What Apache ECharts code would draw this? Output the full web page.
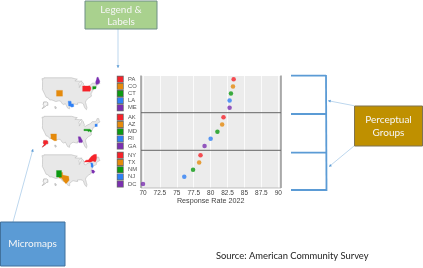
<!DOCTYPE html>
<html><head><meta charset="utf-8">
<style>html,body{margin:0;padding:0;background:#fff}#c{width:423px;height:268px;filter:blur(0.45px)}</style>
<script src="https://cdn.jsdelivr.net/npm/echarts@6/dist/echarts.min.js"></script>
</head><body><div id="c"></div>
<script>
const groupStates = [['PA','CO','CT','LA','ME'],['AK','AZ','MD','RI','GA'],['NY','TX','NM','NJ','DC']];
const groupRates = [[83.4,83.3,83.0,82.8,82.8],[81.9,81.7,81.0,80.0,79.1],[78.5,78.3,77.4,76.1,70.0]];
const colors = ['#f5232a','#e58a0c','#0d9a12','#2f80f5','#7b2fb0'];
const xTicks = {min:70,max:90,interval:2.5};
const usOutline = [[-124.7,48.4],[-123,48.2],[-122.8,49],[-95.2,49],[-95.1,49.4],[-94.6,48.7],[-92,48.3],[-89.6,48],[-92,46.7],[-90,46.6],[-87.5,46.5],[-84.8,46.5],[-84.7,45.9],[-87,45.7],[-88,44.6],[-87.5,43],[-87.6,41.7],[-86.8,41.7],[-86.3,43.5],[-85.5,45],[-84.8,45.8],[-83.4,45],[-83.4,44],[-83.9,43.7],[-82.9,44],[-82.4,43],[-83.1,42.2],[-83.4,41.7],[-81.7,41.5],[-79,42.7],[-79,43.3],[-76.5,43.5],[-76.2,44.2],[-74.8,45],[-71.5,45],[-71,45.3],[-70.3,46.2],[-69.9,47.3],[-69.2,47.5],[-68.3,47.3],[-67.8,47.1],[-67.8,45.7],[-67,44.9],[-69,44],[-70.7,43.1],[-70.8,42.7],[-70.6,41.7],[-71.4,41.4],[-74,40.6],[-74,39.5],[-75,38.9],[-75.5,39.5],[-75.2,38],[-76,37],[-76,36.5],[-75.5,35.3],[-77,34.5],[-78.5,33.8],[-81,32],[-81.4,30.7],[-80.6,28.4],[-80,26.8],[-80.4,25.2],[-81.2,25.2],[-81.8,26.2],[-82.8,27.8],[-83.5,29.5],[-84.5,30],[-86,30.4],[-88,30.3],[-89.5,30.2],[-89.2,29.1],[-91,29.2],[-93.8,29.7],[-95,29.1],[-97.2,27.7],[-97.2,25.9],[-99.2,26.4],[-100.6,28.5],[-101.5,29.8],[-103,29],[-104.5,29.6],[-106.5,31.8],[-108.2,31.8],[-108.2,31.3],[-111,31.3],[-114.8,32.5],[-117.1,32.5],[-118.5,34],[-120.6,34.5],[-122,36.8],[-124.3,40.3],[-124.2,42],[-124.1,46.5]];
const akShape = [[-123,31],[-120,31],[-119,30.5],[-118.8,28.5],[-120,28.5],[-121.5,27.5],[-124.5,26],[-122.5,28],[-123.5,29]];
const hiShape = [[-112,27.5],[-110.8,27.3],[-110.5,26.3],[-111.5,26],[-112,26.5]];
const stateShapes = {
 PA:[[-84.3,42.9],[-83.4,43.2],[-83.3,42.9],[-77,42.9],[-76,41.6],[-76.3,40],[-77,38.9],[-84.3,38.9]],
 CO:[[-110.3,39.6],[-104.3,39.6],[-104.3,35.3],[-110.3,35.3]],
 CT:[[-74.3,42.6],[-71,42.6],[-71,40.9],[-74.3,40.4]],
 LA:[[-98.7,31.6],[-95.8,31.6],[-95.4,29.5],[-93.4,29.5],[-93,27.6],[-95,27.1],[-97,28],[-98.2,28]],
 ME:[[-71,44],[-71.3,46],[-70.6,47.5],[-70,49.4],[-68.8,49.4],[-68,48],[-67.2,46.5],[-67.6,45.2],[-68.8,44.3]],
 AK:akShape,
 AZ:[[-116,35.9],[-110.3,35.9],[-110.3,30.8],[-112.5,30.8],[-116,32.5],[-115.8,34]],
 MD:[[-83,39.4],[-77,39.4],[-75.3,38.3],[-76,37.1],[-77.2,38],[-78.5,37.4],[-79.5,38.3],[-83,38.3]],
 RI:[[-72,43.2],[-69.7,43.2],[-69.7,41.4],[-72,41.4]],
 GA:[[-88.7,33.8],[-86.6,33.8],[-84.3,30.6],[-84.8,29.4],[-88,29.4],[-88.2,31.5]],
 NY:[[-82.7,43.6],[-81,45],[-78.5,45.2],[-75.8,47.8],[-73,49.2],[-70.6,49.4],[-70.3,47],[-71,44.5],[-71.8,43.6],[-74,44.4],[-76,43.6]],
 TX:[[-107.7,35.9],[-104.2,35.9],[-104.2,33.9],[-100.8,33.3],[-98.2,33],[-97.7,30],[-100,28],[-101,27.5],[-103.5,29.7],[-105,31.5],[-107.7,31.7]],
 NM:[[-110.3,37.3],[-105.3,37.3],[-105.3,32.4],[-110.3,32.4]],
 NJ:[[-76.3,43.1],[-74.2,42.8],[-73.7,40.5],[-74.6,39.4],[-75.8,40],[-75.9,41.5]],
 DC:[[-75.3,37.6],[-73.4,37.6],[-72,36.3],[-73.6,35.1],[-75,35.6]]
};
const feature=(name,ring)=>({type:'Feature',properties:{name},geometry:{type:'Polygon',coordinates:[ring.concat([ring[0]])]}});
groupStates.forEach((g,i)=>{
  echarts.registerMap('US'+i,{type:'FeatureCollection',features:[feature('USA',usOutline),feature('AK0',akShape),feature('HI0',hiShape)].concat(g.map(s=>feature(s,stateShapes[s])))});
});
const mapCentersY=[93.5,132,170.5];
const panels=[{top:75.75,h:35.5},{top:113.7,h:35.9},{top:151.7,h:35.9}];
const gl=143,gw=135.3;
const grids=[{left:gl,width:gw,top:76,height:112}].concat(panels.map(p=>({left:gl,width:gw,top:p.top,height:p.h})));
const xAxes=[{gridIndex:0,type:'value',...xTicks,axisLine:{show:false},axisTick:{show:false},splitLine:{show:true,lineStyle:{color:'#fbfbfb',width:1}},axisLabel:{show:true,fontFamily:'Liberation Sans',fontSize:6.5,color:'#444',margin:2,showMinLabel:true,showMaxLabel:true},name:'Response Rate 2022',nameLocation:'middle',nameGap:10,nameTextStyle:{fontFamily:'Liberation Sans',fontSize:7.2,color:'#444'}}]
 .concat(panels.map((p,i)=>({gridIndex:i+1,type:'value',...xTicks,show:false})));
const rich={t:{fontFamily:'Liberation Sans',fontSize:5.8,color:'#555',padding:[0,0,0,5]}};
colors.forEach((c,i)=>{rich['s'+i]={width:5.5,height:5.5,backgroundColor:c,borderColor:'#666',borderWidth:0.7};});
const yAxes=[{gridIndex:0,type:'value',show:false}].concat(groupStates.map((g,i)=>({gridIndex:i+1,type:'category',inverse:true,data:g,axisLine:{show:false},axisTick:{show:false},splitLine:{show:false},
  axisLabel:{interval:0,align:'left',margin:25.5,formatter:(v,idx)=>`{s${idx}|}{t|${v}}`,rich}})));
const scatter=groupStates.map((g,i)=>({type:'scatter',xAxisIndex:i+1,yAxisIndex:i+1,symbolSize:4.5,clip:false,silent:true,z:5,
  data:g.map((s,j)=>({value:[groupRates[i][j],s],itemStyle:{color:colors[j]}}))}));
const maps=groupStates.map((g,i)=>({type:'map',map:'US'+i,layoutCenter:[71,mapCentersY[i]],layoutSize:58,aspectScale:0.75,silent:true,roam:false,selectedMode:false,
  label:{show:false},emphasis:{disabled:true},
  itemStyle:{areaColor:'#e8e8e8',borderColor:'#c2c2c2',borderWidth:0.7},
  data:[{name:'AK0',itemStyle:{areaColor:'#f4f4f4',borderColor:'#aaa'}},{name:'HI0',itemStyle:{areaColor:'#f4f4f4',borderColor:'#aaa'}}]
    .concat(g.map((s,j)=>({name:s,itemStyle:{areaColor:colors[j],borderColor:colors[j],borderWidth:0.3}})))}));
const box=(x,y,w,h,fill,stroke)=>({type:'rect',shape:{x,y,width:w,height:h},z:20,style:{fill,stroke,lineWidth:1}});
const label=(x,y,text)=>({type:'text',x,y,z:21,style:{text,fill:'#f6f6f6',font:'10px Lato',textAlign:'center',textVerticalAlign:'middle',lineHeight:13}});
const seg=(x1,y1,x2,y2,stroke,lineWidth,z=10)=>({type:'line',shape:{x1,y1,x2,y2},z,style:{stroke,lineWidth}});
const arrow=(x1,y1,x2,y2)=>{const a=Math.atan2(y2-y1,x2-x1),s=3;return [seg(x1,y1,x2,y2,'#bdd7ee',1),{type:'polygon',z:11,shape:{points:[[x2,y2],[x2-s*Math.cos(a-0.5),y2-s*Math.sin(a-0.5)],[x2-s*Math.cos(a+0.5),y2-s*Math.sin(a+0.5)]]},style:{fill:'#5b9bd5'}}];};
const graphic=[
 {type:'rect',shape:{x:141,y:76,width:140,height:112},z:-1,style:{fill:'#ececec'},silent:true},
 seg(141,75.5,141,188,'#666',1,3),seg(281,75.5,281,188,'#666',1,3),seg(141,188,281,188,'#aaa',0.7,3),
 seg(141,112.7,281,112.7,'#666',1,3),seg(141,150.3,281,150.3,'#666',1,3),
 seg(291,75.7,326,75.7,'#5b9bd5',1.8),seg(291,114,326,114,'#5b9bd5',1.8),seg(291,152.7,326,152.7,'#5b9bd5',1.8),seg(291,190,326,190,'#5b9bd5',1.8),seg(326,75,326.5,191,'#5b9bd5',1.8),
 ...arrow(118,29,118,68),...arrow(13,222,33,149),...arrow(354,105.7,328,100.7),...arrow(354,146,329,166.7),
 box(85,1,72,28,'#a9d18e','#6f8f86'),label(121,9.5,'Legend &'),label(121,21.5,'Labels'),
 box(0.5,222,64.5,44,'#5b9bd5','#41719c'),label(32.5,244,'Micromaps'),
 box(354.5,106,68,40,'#bf9000','#7f7350'),label(388.5,120,'Perceptual'),label(388.5,132.5,'Groups'),
 {type:'text',x:216,y:256,z:20,style:{text:'Source: American Community Survey',font:'9.4px Lato',fill:'#222',textVerticalAlign:'middle'}}
];
const chart=echarts.init(document.getElementById('c'),null,{renderer:'canvas'});
chart.setOption({animation:false,grid:grids,xAxis:xAxes,yAxis:yAxes,series:[...maps,...scatter],graphic});
</script></body></html>
